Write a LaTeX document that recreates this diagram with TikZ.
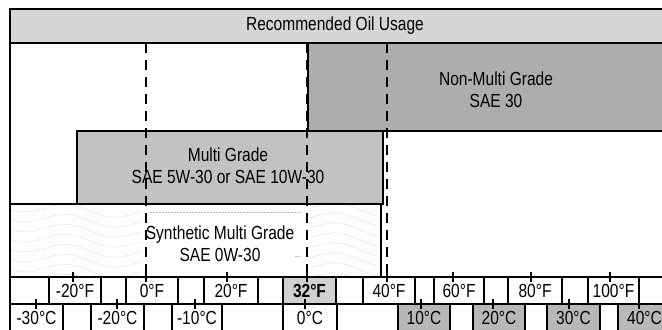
\documentclass[tikz,border=0pt]{standalone}
\usepackage{fontspec}
\setmainfont{Liberation Sans}[FakeStretch=0.82]
\usetikzlibrary{positioning}
\definecolor{titleGray}{gray}{0.84}
\definecolor{nonMulti}{gray}{0.68}
\definecolor{multiGray}{gray}{0.76}
\definecolor{cellGray}{gray}{0.72}
\definecolor{lightCell}{gray}{0.82}

\tikzset{
  border/.style={draw=black, line width=1.6bp},
  dashline/.style={black, line width=1.6bp, dash pattern=on 10bp off 7bp},
  tickmark/.style={black, line width=1.6bp},
  texture/.style={gray!55, densely dotted, line width=0.5bp},
  label/.style={font=\fontsize{19}{22}\selectfont, align=center, inner sep=1bp}
}

\begin{document}
\begin{tikzpicture}[x=1bp,y=-1bp]

  \clip (0,0) rectangle (662,329);
  \fill[white] (0,0) rectangle (662,329);

  % title bar
  \filldraw[border, fill=titleGray] (10,9) rectangle (680,43);
  \node[label] (title) at (335,26) {Recommended Oil Usage};

  % oil bands
  \filldraw[border, fill=nonMulti] (308,43) rectangle (680,131);
  \filldraw[border, fill=multiGray] (77,131) rectangle (383,204);
  \draw[border] (10,204) rectangle (381,277);

  % synthetic texture
  \begin{scope}
    \clip (11,205) rectangle (380,276);
    \foreach \y in {206,216,...,276}
    {
      \draw[texture] plot[domain=10:140, samples=30] (\x, {\y + 5*sin(\x*4)+(\x-10)*0.06});
      \draw[texture] plot[domain=312:380, samples=20] (\x, {\y + 5*sin(\x*4)+(\x-312)*0.08});
    }
    \draw[texture] (150,212) -- (300,212);
    \draw[texture] (150,256) -- (190,256);
    \draw[texture] (250,256) -- (300,256);
  \end{scope}

  \node[label] (nonmultiTxt) at (496,90) {Non-Multi Grade\\SAE 30};
  \node[label] (multiTxt) at (228,166) {Multi Grade\\SAE 5W-30 or SAE 10W-30};
  \node[label, fill=white] (synthTxt) at (220,244) {Synthetic Multi Grade\\SAE 0W-30};

  % left frame
  \draw[border] (10,9) -- (10,340);

  % temperature limits
  \foreach \x in {146,307,387}
    \draw[dashline] (\x,43) -- (\x,277);

  % fahrenheit row
  \def\fcells{49/101/{-20°F}/white, 126/178/{0°F}/white, 204/258/{20°F}/white,
    283/336/{\bfseries 32°F}/lightCell, 363/415/{40°F}/white, 434/484/{60°F}/white,
    508/562/{80°F}/white, 588/639/{100°F}/white}
  \foreach \a/\b/\t/\c [count=\i] in \fcells
  {
    \filldraw[border, fill=\c] (\a,277) rectangle (\b,304);
    \node[label] (f\i) at ({(\a+\b)/2},291) {\t};
  }

  % celsius row
  \def\ccells{10/63/{-30°C}/white, 91/144/{-20°C}/white, 172/222/{-10°C}/white,
    283/337/{0°C}/white, 398/450/{10°C}/cellGray, 473/525/{20°C}/cellGray,
    547/600/{30°C}/cellGray, 618/671/{40°C}/cellGray}
  \foreach \a/\b/\t/\c [count=\i] in \ccells
  {
    \filldraw[border, fill=\c] (\a,304) rectangle (\b,340);
    \node[label] (c\i) at ({(\a+\b)/2},318) {\t};
  }
  \draw[border] (10,277) -- (680,277);
  \draw[border] (10,304) -- (680,304);

  % ticks
  \foreach \x in {73,146,227,307,387,453,531,610}
    \draw[tickmark] (\x,272) -- (\x,282);
  \foreach \x in {36,117,195,305,421,493,569,639}
    \draw[tickmark] (\x,299) -- (\x,309);

\end{tikzpicture}
\end{document}
